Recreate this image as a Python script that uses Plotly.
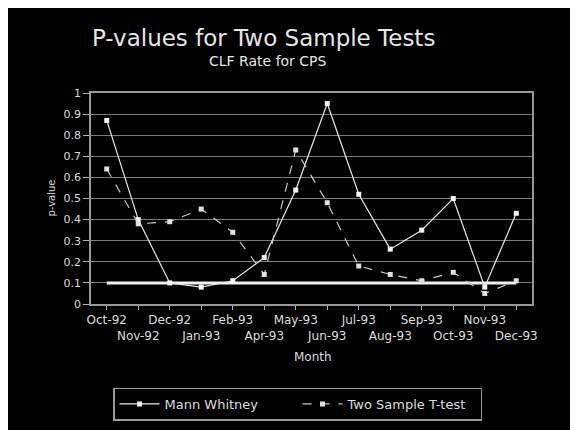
import plotly.graph_objects as go

months = ["Oct-92", "Nov-92", "Dec-92", "Jan-93", "Feb-93", "Apr-93", "May-93",
          "Jun-93", "Jul-93", "Aug-93", "Sep-93", "Oct-93", "Nov-93", "Dec-93"]
mann_whitney = [0.87, 0.40, 0.10, 0.08, 0.11, 0.22, 0.54, 0.95, 0.52, 0.26, 0.35, 0.50, 0.08, 0.43]
t_test = [0.64, 0.38, 0.39, 0.45, 0.34, 0.14, 0.73, 0.48, 0.18, 0.14, 0.11, 0.15, 0.05, 0.11]
threshold = [0.1] * len(months)
y_ticks = ["0", "0.1", "0.2", "0.3", "0.4", "0.5", "0.6", "0.7", "0.8", "0.9", "1"]

row1_text = [m if i % 2 == 0 else "" for i, m in enumerate(months)]
row2_text = ["" if i % 2 == 0 else m for i, m in enumerate(months)]

FONT = "DejaVu Sans, Liberation Sans, sans-serif"
TXT = "#dcdcdc"
OFF = 8  # page body margin
W, H = 578 - OFF, 430 - OFF
PT, PB, PL, PR = 93 - OFF, 304 - OFF, 91 - OFF, 532 - OFF
PH, PW = PB - PT, PR - PL


def py(v):
    return (PB - (v - OFF)) / PH


def px(v):
    return ((v - OFF) - PL) / PW


fig = go.Figure()
fig.add_trace(go.Scatter(x=months, y=threshold, mode="lines", showlegend=False,
                         line=dict(color="#f0f0f0", width=3), hoverinfo="skip"))
fig.add_trace(go.Scatter(x=months, y=mann_whitney, mode="lines+markers", name="Mann Whitney",
                         line=dict(color="#e8e8e8", width=1.2),
                         marker=dict(symbol="square", size=5, color="#f4f4f4")))
fig.add_trace(go.Scatter(x=months, y=t_test, mode="lines+markers", name="Two Sample T-test",
                         line=dict(color="#c8c8c8", width=1.2, dash="dash"),
                         marker=dict(symbol="square", size=5, color="#e0e0e0")))
# invisible helper trace so the second-row label axis is drawn
fig.add_trace(go.Scatter(x=months, y=threshold, xaxis="x2", mode="markers", showlegend=False,
                         marker=dict(opacity=0), hoverinfo="skip"))

fig.update_layout(
    width=W, height=H,
    paper_bgcolor="black", plot_bgcolor="black",
    margin=dict(l=PL, r=W - PR, t=PT, b=H - PB, autoexpand=False),
    font=dict(family=FONT, color=TXT, size=12),
    showlegend=True,
    xaxis=dict(type="category", range=[-0.5, 13.5], tickmode="array",
               tickvals=months, ticktext=row1_text, ticklabelstandoff=0,
               tickangle=0, ticks="outside", ticklen=4, tickcolor="#b0b0b0", tickwidth=1,
               showgrid=False, showline=True, linecolor="#999999",
               mirror=True, linewidth=1.5, tickfont=dict(size=12, color=TXT),
               automargin=False),
    xaxis2=dict(overlaying="x", anchor="y", side="bottom", type="category",
                range=[-0.5, 13.5], tickmode="array",
                tickvals=months, ticktext=row2_text,
                ticks="", tickangle=0,
                ticklabelstandoff=23, showgrid=False, showline=False, zeroline=False,
                tickfont=dict(size=12, color=TXT), automargin=False),
    yaxis=dict(range=[0, 1], tickmode="array", tickvals=[i / 10 for i in range(11)],
               ticktext=y_ticks,
               showgrid=True, gridcolor="#7a7a7a", gridwidth=1, zeroline=False,
               showline=True, linecolor="#999999", mirror=True, linewidth=1.5,
               ticks="outside", ticklen=6, tickcolor="#b0b0b0",
               tickfont=dict(size=11, color=TXT), automargin=False),
    legend=dict(orientation="h", x=px(297.5), xanchor="center",
                yref="container", y=1 - (404 - OFF) / H, yanchor="middle",
                bgcolor="black", bordercolor="#999999", borderwidth=1.5,
                font=dict(size=13, color=TXT), itemwidth=40,
                entrywidthmode="pixels", entrywidth=128),
    annotations=[
        dict(text="P-values for Two Sample Tests", xref="paper", yref="paper",
             x=px(263), y=py(38), xanchor="center", yanchor="middle",
             showarrow=False, font=dict(size=23, color="#e6e6e6", family=FONT)),
        dict(text="CLF Rate for CPS", xref="paper", yref="paper",
             x=px(268), y=py(61), xanchor="center", yanchor="middle",
             showarrow=False, font=dict(size=14, color="#e6e6e6", family=FONT)),
        dict(text="Month", xref="paper", yref="paper",
             x=px(313), y=py(357), xanchor="center", yanchor="middle",
             showarrow=False, font=dict(size=12, color=TXT, family=FONT)),
        dict(text="p-value", xref="paper", yref="paper", textangle=-90,
             x=px(51), y=0.5, xanchor="center", yanchor="middle",
             showarrow=False, font=dict(size=10, color=TXT, family=FONT)),
    ],
)

fig.write_html("out.html")
